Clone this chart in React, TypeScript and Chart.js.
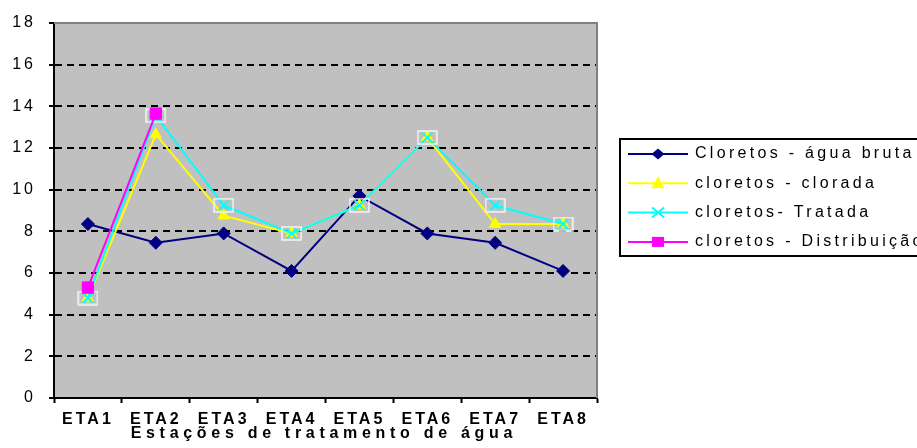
import React, { useEffect, useRef } from 'react';
import { Chart, registerables } from 'chart.js';

Chart.register(...registerables);

// Stations and chloride readings per sampling point
const categories = ['ETA1', 'ETA2', 'ETA3', 'ETA4', 'ETA5', 'ETA6', 'ETA7', 'ETA8'];
const aguaBruta = [8.35, 7.45, 7.9, 6.1, 9.7, 7.9, 7.45, 6.1];
const clorada = [4.8, 12.65, 8.75, 7.9, 9.25, 12.5, 8.35, 8.35];
const tratada = [4.8, 13.55, 9.25, 7.9, 9.25, 12.5, 9.25, 8.35];
const distribuicao: (number | null)[] = [5.3, 13.65, null, null, null, null, null, null];

const seriesNames = [
  'Cloretos - água bruta',
  'cloretos - clorada',
  'cloretos- Tratada',
  'cloretos - Distribuição',
];
const seriesColors = ['#000080', '#FFFF00', '#00FFFF', '#FF00FF'];

const yMin = 0;
const yMax = 18;
const yStep = 2;
const xTitle = 'Estações de tratamento de água';

const FONT = '"Liberation Sans", Arial, sans-serif';
const SPACING = '3px';

function makeBoxMarker(): HTMLCanvasElement {
  const c = document.createElement('canvas');
  c.width = 21;
  c.height = 15;
  const g = c.getContext('2d')!;
  g.strokeStyle = '#F4F4F4';
  g.lineWidth = 1.5;
  g.strokeRect(1, 1, 19, 13);
  return c;
}

const spacingPlugin = {
  id: 'spacedText',
  beforeLayout(chart: any) {
    chart.ctx.letterSpacing = SPACING;
  },
  beforeDraw(chart: any) {
    chart.ctx.letterSpacing = SPACING;
  },
};

const plotAreaPlugin = {
  id: 'plotArea',
  beforeDraw(chart: any) {
    const { ctx, chartArea: a } = chart;
    ctx.save();
    ctx.fillStyle = '#C0C0C0';
    ctx.fillRect(a.left, a.top, a.right - a.left, a.bottom - a.top);
    ctx.restore();
  },
  beforeDatasetsDraw(chart: any) {
    const { ctx, chartArea: a } = chart;
    ctx.save();
    ctx.strokeStyle = '#808080';
    ctx.lineWidth = 2;
    ctx.beginPath();
    ctx.moveTo(a.left, a.top);
    ctx.lineTo(a.right, a.top);
    ctx.lineTo(a.right, a.bottom);
    ctx.stroke();
    ctx.restore();
  },
};

// Axis title, drawn with its own wider letter spacing
const axisTitlePlugin = {
  id: 'axisTitle',
  afterDraw(chart: any) {
    const { ctx, chartArea: a } = chart;
    const spacing = 4.7;
    ctx.save();
    ctx.font = `bold 16px ${FONT}`;
    (ctx as any).letterSpacing = `${spacing}px`;
    ctx.fillStyle = '#000000';
    ctx.textAlign = 'center';
    ctx.textBaseline = 'middle';
    ctx.fillText(xTitle, (a.left + a.right) / 2 - 4 + spacing / 2, 434);
    ctx.restore();
  },
};

function drawMarker(ctx: CanvasRenderingContext2D, kind: number, x: number, y: number) {
  ctx.save();
  ctx.fillStyle = seriesColors[kind];
  ctx.strokeStyle = seriesColors[kind];
  ctx.lineWidth = 2;
  ctx.beginPath();
  if (kind === 0) {
    ctx.moveTo(x, y - 5.5);
    ctx.lineTo(x + 6.5, y);
    ctx.lineTo(x, y + 5.5);
    ctx.lineTo(x - 6.5, y);
    ctx.closePath();
    ctx.fill();
  } else if (kind === 1) {
    ctx.moveTo(x, y - 7);
    ctx.lineTo(x + 6.5, y + 5);
    ctx.lineTo(x - 6.5, y + 5);
    ctx.closePath();
    ctx.fill();
  } else if (kind === 2) {
    ctx.moveTo(x - 6, y - 5);
    ctx.lineTo(x + 6, y + 5);
    ctx.moveTo(x + 6, y - 5);
    ctx.lineTo(x - 6, y + 5);
    ctx.stroke();
  } else {
    ctx.fillRect(x - 6, y - 5, 12, 10);
  }
  ctx.restore();
}

const legendPlugin = {
  id: 'boxLegend',
  afterDraw(chart: any) {
    const ctx: CanvasRenderingContext2D = chart.ctx;
    const left = 620;
    const top = 139;
    const rowGap = 29.3;
    const firstRow = 154;
    ctx.save();
    ctx.strokeStyle = '#000000';
    ctx.lineWidth = 2;
    ctx.strokeRect(left, top, 330, 117);
    ctx.font = `16px ${FONT}`;
    (ctx as any).letterSpacing = '3.3px';
    ctx.textBaseline = 'middle';
    ctx.textAlign = 'left';
    seriesNames.forEach((name, i) => {
      const y = firstRow + i * rowGap;
      ctx.strokeStyle = seriesColors[i];
      ctx.lineWidth = 2;
      ctx.beginPath();
      ctx.moveTo(628, y);
      ctx.lineTo(688, y);
      ctx.stroke();
      drawMarker(ctx, i, 658, y);
      ctx.fillStyle = '#000000';
      ctx.fillText(name, 695, y);
    });
    ctx.restore();
  },
};

export default function App() {
  const canvasRef = useRef<HTMLCanvasElement | null>(null);

  useEffect(() => {
    if (!canvasRef.current) return;
    const box = makeBoxMarker();
    const line = (label: string, data: (number | null)[], color: string, style: any, radius: number, order: number) => ({
      label,
      data,
      borderColor: color,
      backgroundColor: color,
      borderWidth: 2,
      pointStyle: style,
      pointRadius: radius,
      pointHoverRadius: radius,
      pointBorderWidth: style === 'crossRot' ? 2 : 1,
      pointBackgroundColor: color,
      pointBorderColor: color,
      tension: 0,
      spanGaps: false,
      order,
    });

    const chart = new Chart(canvasRef.current, {
      type: 'line',
      data: {
        labels: categories,
        datasets: [
          line(seriesNames[0], aguaBruta, seriesColors[0], 'rectRot', 6.5, 6),
          line(seriesNames[1], clorada, seriesColors[1], 'triangle', 6.5, 5),
          line(seriesNames[2], tratada, seriesColors[2], 'crossRot', 7, 4),
          {
            label: 'box',
            data: tratada,
            showLine: false,
            pointStyle: box,
            pointRadius: 8,
            borderColor: 'transparent',
            backgroundColor: 'transparent',
            order: 3,
          } as any,
          line(seriesNames[3], distribuicao, seriesColors[3], 'rect', 8, 1),
        ],
      },
      options: {
        responsive: false,
        animation: false,
        events: [],
        layout: { padding: { left: 0, right: 320, top: 23, bottom: 0 } },
        plugins: {
          legend: { display: false },
          tooltip: { enabled: false },
        },
        scales: {
          x: {
            type: 'category',
            offset: true,
            grid: {
              offset: true,
              drawOnChartArea: false,
              drawTicks: true,
              tickLength: 5,
              tickWidth: 2,
              tickColor: '#000000',
            },
            border: { display: true, color: '#000000', width: 2 },
            ticks: {
              color: '#000000',
              padding: 7,
              maxRotation: 0,
              autoSkip: false,
              font: { family: FONT, size: 16, weight: 'bold' },
            },
            title: { display: false },
            afterFit(scale: any) {
              scale.height = 50;
              scale.paddingLeft = 0;
              scale.paddingRight = 0;
            },
          },
          y: {
            min: yMin,
            max: yMax,
            ticks: {
              stepSize: yStep,
              color: '#000000',
              padding: 13,
              font: { family: FONT, size: 16 },
            },
            grid: {
              color: (c: any) => (c.tick && c.tick.value === yMax ? '#808080' : '#000000'),
              lineWidth: 2,
              drawTicks: true,
              tickLength: 5,
              tickWidth: 2,
              tickColor: '#000000',
            },
            border: { display: true, color: '#000000', width: 2, dash: [7, 5] },
            afterFit(scale: any) {
              scale.width = 54;
              scale.paddingTop = 0;
              scale.paddingBottom = 0;
            },
          },
        },
      } as any,
      plugins: [spacingPlugin, plotAreaPlugin, axisTitlePlugin, legendPlugin],
    });

    return () => chart.destroy();
  }, []);

  return (
    <div style={{ position: 'fixed', left: 0, top: 0, width: 917, height: 448, background: '#FFFFFF' }}>
      <canvas ref={canvasRef} width={917} height={448} style={{ display: 'block' }} />
    </div>
  );
}
